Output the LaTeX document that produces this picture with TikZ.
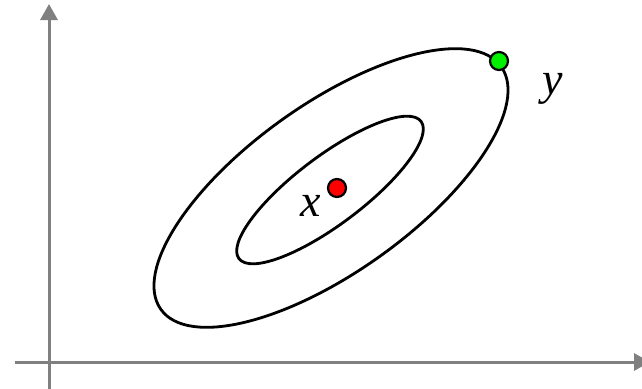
\documentclass[tikz,border=0pt]{standalone}
\usepackage{fontspec}
\setmainfont{Liberation Serif}
\usetikzlibrary{arrows.meta}
\definecolor{axisgray}{RGB}{128,128,128}
\definecolor{dotgreen}{RGB}{0,240,0}
\definecolor{dotred}{RGB}{255,0,0}
\begin{document}
\begin{tikzpicture}[x=1pt,y=-1pt,
  axis/.style={draw=axisgray,line width=3pt,-{Triangle[length=16pt,width=17pt]}},
  contour/.style={draw=black,line width=2.8pt},
  dot/.style={circle,draw=black,line width=2.2pt,minimum size=18pt,inner sep=0pt},
  lbl/.style={font=\fontsize{46}{50}\selectfont\itshape,inner sep=0pt,anchor=base}]
\useasboundingbox (0,0) rectangle (642,388);
\begin{scope}
\clip (0,0) rectangle (642,388);
\coordinate (yb) at (49,392);
\coordinate (yt) at (49,4);
\coordinate (xl) at (15,362);
\coordinate (xr) at (650,362);
\draw[axis] (yb) -- (yt);
\draw[axis] (xl) -- (xr);
\end{scope}
% inner ellipse
\draw[contour,rotate around={37:(330,190)}] (330,190) ellipse[x radius=114, y radius=34];
% outer contour
\draw[contour,rotate around={35.5:(331,188)}] (331,188) ellipse[x radius=209, y radius=84];
\node[dot,fill=dotgreen] (g) at (499,61) {};
\node[dot,fill=dotred] (r) at (337,188) {};
\node[lbl] (lx) at (311,216) {x};
\node[lbl] (ly) at (553,94) {y};
\end{tikzpicture}
\end{document}
